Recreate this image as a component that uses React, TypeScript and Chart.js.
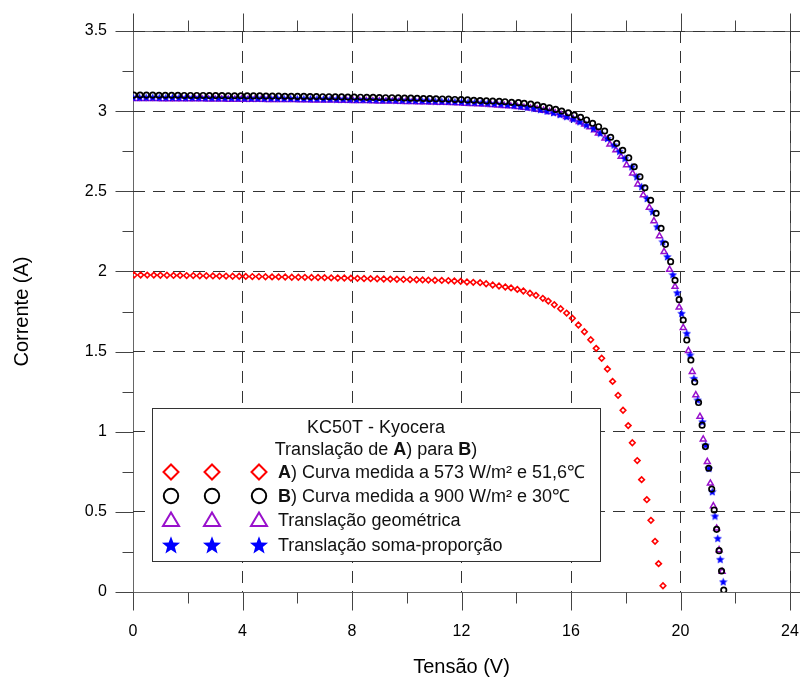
import React, { useEffect, useRef } from 'react';
import { Chart, registerables } from 'chart.js';

Chart.register(...registerables);

const FONT = '"Liberation Sans", Arial, Helvetica, sans-serif';

// ---------- axes ----------
const xTitle = 'Tensão (V)';
const yTitle = 'Corrente (A)';
const xMin = 0;
const xMax = 24;
const xStep = 4;
const yMin = 0;
const yMax = 3.5;
const yStep = 0.5;

// ---------- legend text ----------
const legendTitle = 'KC50T - Kyocera';
const legendSubtitle = [
  { text: 'Translação de ', bold: false },
  { text: 'A', bold: true },
  { text: ') para ', bold: false },
  { text: 'B', bold: true },
  { text: ')', bold: false },
];
const labelA = [
  { text: 'A', bold: true },
  { text: ') Curva medida a 573 W/m² e 51,6℃', bold: false },
];
const labelB = [
  { text: 'B', bold: true },
  { text: ') Curva medida a 900 W/m² e 30℃', bold: false },
];
const labelG = [{ text: 'Translação geométrica', bold: false }];
const labelS = [{ text: 'Translação soma-proporção', bold: false }];

// ---------- data: [V, I] ----------
const curveA: [number, number][] = [
  [0.04, 1.978], [0.28, 1.978], [0.52, 1.977], [0.76, 1.977], [1.0, 1.976], [1.24, 1.976], [1.48, 1.975], [1.72, 1.975],
  [1.96, 1.974], [2.2, 1.974], [2.44, 1.973], [2.68, 1.973], [2.92, 1.972], [3.16, 1.971], [3.4, 1.971], [3.64, 1.97],
  [3.88, 1.97], [4.12, 1.969], [4.36, 1.968], [4.6, 1.968], [4.84, 1.967], [5.08, 1.966], [5.32, 1.966], [5.56, 1.965],
  [5.8, 1.964], [6.04, 1.964], [6.28, 1.963], [6.52, 1.962], [6.76, 1.962], [7.0, 1.961], [7.24, 1.96], [7.48, 1.959],
  [7.72, 1.959], [7.96, 1.958], [8.2, 1.957], [8.44, 1.956], [8.68, 1.955], [8.92, 1.954], [9.16, 1.953], [9.4, 1.952],
  [9.64, 1.951], [9.88, 1.95], [10.12, 1.949], [10.36, 1.948], [10.58, 1.947], [10.79, 1.946], [11.03, 1.945], [11.28, 1.944],
  [11.52, 1.943], [11.74, 1.94], [11.97, 1.938], [12.2, 1.934], [12.43, 1.932], [12.68, 1.93], [12.9, 1.923], [13.14, 1.915],
  [13.37, 1.909], [13.6, 1.903], [13.81, 1.897], [14.04, 1.888], [14.26, 1.878], [14.5, 1.864], [14.72, 1.851], [14.97, 1.832],
  [15.17, 1.815], [15.39, 1.792], [15.62, 1.767], [15.84, 1.74], [16.05, 1.708], [16.27, 1.666], [16.49, 1.624], [16.72, 1.574],
  [16.92, 1.52], [17.12, 1.458], [17.33, 1.391], [17.52, 1.314], [17.72, 1.227], [17.9, 1.134], [18.09, 1.038], [18.24, 0.931],
  [18.42, 0.82], [18.58, 0.701], [18.77, 0.576], [18.92, 0.447], [19.07, 0.316], [19.2, 0.177], [19.36, 0.039],
];

const curveB: [number, number][] = [
  [0.03, 3.1], [0.26, 3.1], [0.49, 3.1], [0.72, 3.1], [0.95, 3.099], [1.18, 3.099], [1.41, 3.099], [1.64, 3.099],
  [1.87, 3.098], [2.1, 3.098], [2.33, 3.098], [2.56, 3.098], [2.79, 3.097], [3.02, 3.097], [3.25, 3.097], [3.48, 3.096],
  [3.71, 3.096], [3.94, 3.096], [4.17, 3.095], [4.4, 3.095], [4.63, 3.095], [4.86, 3.094], [5.09, 3.094], [5.32, 3.094],
  [5.55, 3.093], [5.78, 3.093], [6.01, 3.092], [6.24, 3.092], [6.47, 3.091], [6.7, 3.091], [6.93, 3.09], [7.16, 3.09],
  [7.39, 3.089], [7.62, 3.089], [7.85, 3.088], [8.08, 3.088], [8.31, 3.087], [8.54, 3.086], [8.77, 3.086], [9.0, 3.085],
  [9.23, 3.084], [9.46, 3.084], [9.69, 3.083], [9.92, 3.082], [10.15, 3.081], [10.38, 3.08], [10.61, 3.079], [10.84, 3.078],
  [11.07, 3.077], [11.3, 3.076], [11.53, 3.075], [11.76, 3.073], [11.99, 3.072], [12.22, 3.07], [12.45, 3.068], [12.68, 3.066],
  [12.91, 3.064], [13.14, 3.063], [13.38, 3.061], [13.59, 3.059], [13.83, 3.055], [14.08, 3.053], [14.29, 3.049], [14.53, 3.044],
  [14.77, 3.038], [14.99, 3.028], [15.21, 3.021], [15.44, 3.011], [15.66, 3.001], [15.9, 2.99], [16.12, 2.976], [16.35, 2.962],
  [16.57, 2.945], [16.79, 2.924], [17.01, 2.903], [17.23, 2.876], [17.45, 2.837], [17.67, 2.799], [17.89, 2.756], [18.11, 2.709],
  [18.31, 2.653], [18.52, 2.591], [18.7, 2.522], [18.91, 2.444], [19.11, 2.363], [19.29, 2.269], [19.45, 2.169], [19.64, 2.061],
  [19.8, 1.945], [19.95, 1.824], [20.1, 1.697], [20.23, 1.572], [20.38, 1.447], [20.52, 1.31], [20.66, 1.182], [20.79, 1.041],
  [20.91, 0.907], [21.03, 0.772], [21.14, 0.642], [21.23, 0.512], [21.32, 0.391], [21.41, 0.258], [21.5, 0.131], [21.58, 0.012],
];

const curveGeometric: [number, number][] = [
  [0.12, 3.077], [0.36, 3.077], [0.6, 3.077], [0.84, 3.077], [1.08, 3.076], [1.32, 3.076], [1.56, 3.076], [1.8, 3.076],
  [2.04, 3.075], [2.28, 3.075], [2.52, 3.075], [2.76, 3.074], [3.0, 3.074], [3.24, 3.074], [3.48, 3.073], [3.72, 3.073],
  [3.96, 3.073], [4.2, 3.072], [4.44, 3.072], [4.68, 3.072], [4.92, 3.071], [5.16, 3.071], [5.4, 3.071], [5.64, 3.07],
  [5.88, 3.07], [6.12, 3.069], [6.36, 3.069], [6.6, 3.068], [6.84, 3.068], [7.08, 3.067], [7.32, 3.067], [7.56, 3.066],
  [7.8, 3.066], [8.04, 3.065], [8.28, 3.064], [8.52, 3.064], [8.76, 3.063], [9.0, 3.062], [9.24, 3.061], [9.48, 3.061],
  [9.72, 3.06], [9.96, 3.059], [10.2, 3.058], [10.44, 3.057], [10.68, 3.056], [10.92, 3.055], [11.16, 3.054], [11.4, 3.053],
  [11.64, 3.052], [11.88, 3.05], [12.12, 3.048], [12.36, 3.046], [12.6, 3.044], [12.84, 3.042], [13.08, 3.04], [13.32, 3.037],
  [13.56, 3.034], [13.8, 3.031], [14.04, 3.027], [14.28, 3.022], [14.52, 3.017], [14.76, 3.011], [15.0, 3.004], [15.22, 2.996],
  [15.42, 2.988], [15.64, 2.977], [15.84, 2.965], [16.08, 2.95], [16.3, 2.934], [16.5, 2.918], [16.69, 2.9], [16.86, 2.882],
  [17.0, 2.862], [17.24, 2.83], [17.42, 2.793], [17.64, 2.757], [17.83, 2.716], [18.03, 2.664], [18.25, 2.612], [18.44, 2.544],
  [18.64, 2.477], [18.86, 2.398], [19.03, 2.315], [19.23, 2.221], [19.4, 2.123], [19.6, 2.012], [19.8, 1.905], [19.95, 1.776],
  [20.1, 1.649], [20.29, 1.505], [20.43, 1.374], [20.56, 1.229], [20.71, 1.094], [20.83, 0.953], [20.98, 0.813], [21.09, 0.678],
  [21.2, 0.537], [21.32, 0.397], [21.41, 0.262], [21.52, 0.127],
];

const curveSumProportion: [number, number][] = [
  [0.0, 3.086], [0.24, 3.086], [0.48, 3.086], [0.72, 3.086], [0.96, 3.085], [1.2, 3.085], [1.44, 3.085], [1.68, 3.085],
  [1.92, 3.084], [2.16, 3.084], [2.4, 3.084], [2.64, 3.083], [2.88, 3.083], [3.12, 3.083], [3.36, 3.082], [3.6, 3.082],
  [3.84, 3.082], [4.08, 3.081], [4.32, 3.081], [4.56, 3.081], [4.8, 3.08], [5.04, 3.08], [5.28, 3.08], [5.52, 3.079],
  [5.76, 3.079], [6.0, 3.078], [6.24, 3.078], [6.48, 3.077], [6.72, 3.077], [6.96, 3.076], [7.2, 3.076], [7.44, 3.075],
  [7.68, 3.075], [7.92, 3.074], [8.16, 3.073], [8.4, 3.073], [8.64, 3.072], [8.88, 3.071], [9.12, 3.07], [9.36, 3.07],
  [9.6, 3.069], [9.84, 3.068], [10.08, 3.067], [10.32, 3.066], [10.56, 3.065], [10.8, 3.064], [11.04, 3.063], [11.28, 3.062],
  [11.52, 3.061], [11.76, 3.059], [12.0, 3.058], [12.24, 3.056], [12.48, 3.054], [12.72, 3.052], [12.96, 3.05], [13.2, 3.047],
  [13.44, 3.044], [13.68, 3.04], [13.92, 3.036], [14.16, 3.031], [14.4, 3.025], [14.64, 3.018], [14.88, 3.01], [15.12, 3.001],
  [15.36, 2.991], [15.6, 2.979], [15.84, 2.966], [16.08, 2.951], [16.32, 2.934], [16.56, 2.914], [16.82, 2.893], [17.07, 2.863],
  [17.33, 2.83], [17.57, 2.789], [17.77, 2.75], [17.97, 2.706], [18.22, 2.653], [18.4, 2.591], [18.58, 2.529], [18.78, 2.455],
  [18.98, 2.373], [19.15, 2.279], [19.35, 2.185], [19.52, 2.092], [19.72, 1.98], [19.88, 1.867], [20.04, 1.739], [20.23, 1.614],
  [20.35, 1.479], [20.49, 1.333], [20.63, 1.198], [20.8, 1.062], [20.92, 0.917], [21.04, 0.772], [21.16, 0.626], [21.26, 0.474],
  [21.36, 0.335], [21.45, 0.204], [21.56, 0.064],
];

// ---------- colours ----------
const RED = '#ff0000';
const BLACK = '#000000';
const PURPLE = '#9911cc';
const BLUE = '#0000ff';

type Run = { text: string; bold: boolean };

function starPath(ctx: CanvasRenderingContext2D, cx: number, cy: number, R: number, r: number) {
  ctx.beginPath();
  for (let i = 0; i < 10; i++) {
    const rad = i % 2 === 0 ? R : r;
    const a = -Math.PI / 2 + (i * Math.PI) / 5;
    const px = cx + rad * Math.cos(a);
    const py = cy + rad * Math.sin(a);
    if (i === 0) ctx.moveTo(px, py);
    else ctx.lineTo(px, py);
  }
  ctx.closePath();
}

function makeStarImage(size: number, color: string) {
  const c = document.createElement('canvas');
  c.width = size;
  c.height = size;
  const g = c.getContext('2d')!;
  g.fillStyle = color;
  starPath(g, size / 2, size / 2 + 0.4, size / 2, (size / 2) * 0.45);
  g.fill();
  return c;
}

function drawMarker(ctx: CanvasRenderingContext2D, kind: string, x: number, y: number, color: string) {
  ctx.save();
  ctx.strokeStyle = color;
  ctx.fillStyle = color;
  ctx.lineWidth = 2;
  if (kind === 'diamond') {
    const s = 7.5;
    ctx.beginPath();
    ctx.moveTo(x, y - s);
    ctx.lineTo(x + s, y);
    ctx.lineTo(x, y + s);
    ctx.lineTo(x - s, y);
    ctx.closePath();
    ctx.stroke();
  } else if (kind === 'circle') {
    ctx.beginPath();
    ctx.arc(x, y, 7.2, 0, Math.PI * 2);
    ctx.stroke();
  } else if (kind === 'triangle') {
    ctx.beginPath();
    ctx.moveTo(x, y - 7.5);
    ctx.lineTo(x + 8, y + 6);
    ctx.lineTo(x - 8, y + 6);
    ctx.closePath();
    ctx.stroke();
  } else if (kind === 'star') {
    starPath(ctx, x, y + 0.8, 9.5, 4);
    ctx.fill();
  }
  ctx.restore();
}

function drawRuns(ctx: CanvasRenderingContext2D, runs: Run[], x: number, y: number, align: 'left' | 'center', size: number) {
  const fontOf = (b: boolean) => `${b ? 'bold ' : ''}${size}px ${FONT}`;
  let total = 0;
  const widths = runs.map((r) => {
    ctx.font = fontOf(r.bold);
    const w = ctx.measureText(r.text).width;
    total += w;
    return w;
  });
  let cx = align === 'center' ? x - total / 2 : x;
  runs.forEach((r, i) => {
    ctx.font = fontOf(r.bold);
    ctx.fillText(r.text, cx, y);
    cx += widths[i];
  });
}

const frameTicksPlugin = {
  id: 'frameTicks',
  beforeDraw(chart: any) {
    const { ctx, chartArea } = chart;
    const { left, right, top, bottom } = chartArea;
    const xs = chart.scales.x;
    const ys = chart.scales.y;
    ctx.save();
    ctx.fillStyle = '#ffffff';
    ctx.fillRect(0, 0, chart.width, chart.height);
    const al = (v: number) => Math.round(v) + 0.5;
    ctx.strokeStyle = '#666666';
    ctx.lineWidth = 1;
    ctx.strokeRect(al(left), al(top), Math.round(right) - Math.round(left), Math.round(bottom) - Math.round(top));

    const MAJOR = 18;
    const MINOR = 11;
    ctx.strokeStyle = '#444444';
    const xVals: number[] = xs.ticks.map((t: any) => t.value);
    const yVals: number[] = ys.ticks.map((t: any) => t.value);
    const xMinor: number[] = [];
    for (let i = 0; i < xVals.length - 1; i++) xMinor.push((xVals[i] + xVals[i + 1]) / 2);
    const yMinor: number[] = [];
    for (let i = 0; i < yVals.length - 1; i++) yMinor.push((yVals[i] + yVals[i + 1]) / 2);

    ctx.beginPath();
    const vTick = (v: number, len: number) => {
      const px = al(xs.getPixelForValue(v));
      ctx.moveTo(px, al(bottom));
      ctx.lineTo(px, al(bottom) + len);
      ctx.moveTo(px, al(top));
      ctx.lineTo(px, al(top) - len);
    };
    const hTick = (v: number, len: number) => {
      const py = al(ys.getPixelForValue(v));
      ctx.moveTo(al(left), py);
      ctx.lineTo(al(left) - len, py);
      ctx.moveTo(al(right), py);
      ctx.lineTo(al(right) + len, py);
    };
    xVals.forEach((v) => vTick(v, MAJOR));
    xMinor.forEach((v) => vTick(v, MINOR));
    yVals.forEach((v) => hTick(v, MAJOR));
    yMinor.forEach((v) => hTick(v, MINOR));
    ctx.stroke();
    ctx.restore();
  },
};

const legendPlugin = {
  id: 'kcLegend',
  afterDraw(chart: any) {
    const { ctx, chartArea } = chart;
    const x0 = chartArea.left + 19;
    const y0 = chartArea.top + 377;
    const w = 448;
    const h = 153;
    ctx.save();
    ctx.fillStyle = '#ffffff';
    ctx.fillRect(x0, y0, w, h);
    ctx.strokeStyle = '#333333';
    ctx.lineWidth = 1;
    ctx.strokeRect(x0 + 0.5, y0 + 0.5, w, h);

    ctx.fillStyle = '#111111';
    ctx.textBaseline = 'middle';
    ctx.textAlign = 'left';
    const cx = x0 + w / 2;
    drawRuns(ctx, [{ text: legendTitle, bold: false }], cx, y0 + 20, 'center', 18);
    drawRuns(ctx, legendSubtitle, cx, y0 + 42, 'center', 18);

    const rows: { kind: string; color: string; runs: Run[] }[] = [
      { kind: 'diamond', color: RED, runs: labelA },
      { kind: 'circle', color: BLACK, runs: labelB },
      { kind: 'triangle', color: PURPLE, runs: labelG },
      { kind: 'star', color: BLUE, runs: labelS },
    ];
    const rowY = [y0 + 64, y0 + 88, y0 + 112, y0 + 137];
    const markerX = [x0 + 19, x0 + 60, x0 + 107];
    rows.forEach((r, i) => {
      markerX.forEach((mx) => drawMarker(ctx, r.kind, mx, rowY[i], r.color));
      ctx.fillStyle = '#111111';
      drawRuns(ctx, r.runs, x0 + 126, rowY[i] + 1, 'left', 18);
    });
    ctx.restore();
  },
};

const toPts = (arr: [number, number][]) => arr.map(([v, i]) => ({ x: v, y: i }));

export default function App() {
  const canvasRef = useRef<HTMLCanvasElement | null>(null);

  useEffect(() => {
    document.body.style.margin = '0';
    const canvas = canvasRef.current;
    if (!canvas) return;
    const starImg = makeStarImage(9, BLUE);

    const chart = new Chart(canvas, {
      type: 'scatter',
      data: {
        datasets: [
          {
            label: 'B',
            data: toPts(curveB),
            pointStyle: 'circle',
            pointRadius: 2.7,
            borderWidth: 1.7,
            borderColor: BLACK,
            backgroundColor: 'rgba(0,0,0,0)',
            showLine: false,
          },
          {
            label: 'S',
            data: toPts(curveSumProportion),
            pointStyle: starImg as any,
            pointRadius: 4,
            borderColor: BLUE,
            backgroundColor: BLUE,
            showLine: false,
          },
          {
            label: 'G',
            data: toPts(curveGeometric),
            pointStyle: 'triangle',
            pointRadius: 3.4,
            borderWidth: 1.5,
            borderColor: PURPLE,
            backgroundColor: 'rgba(0,0,0,0)',
            showLine: false,
          },
          {
            label: 'A',
            data: toPts(curveA),
            pointStyle: 'rectRot',
            pointRadius: 2.8,
            borderWidth: 1.6,
            borderColor: RED,
            backgroundColor: 'rgba(0,0,0,0)',
            showLine: false,
          },
        ],
      },
      options: {
        animation: false,
        responsive: false,
        maintainAspectRatio: false,
        devicePixelRatio: 1,
        layout: { padding: { top: 31, right: 10, left: 0, bottom: 0 } },
        plugins: {
          legend: { display: false },
          tooltip: { enabled: false },
          title: { display: false },
        },
        scales: {
          x: {
            type: 'linear',
            position: 'bottom',
            min: xMin,
            max: xMax,
            ticks: {
              stepSize: xStep,
              autoSkip: false,
              maxRotation: 0,
              padding: 30,
              color: '#000',
              font: { family: FONT, size: 16 },
              callback: (v: any) => `${Number(v)}`,
            },
            grid: {
              drawTicks: false,
              lineWidth: 1,
              color: (c: any) => (c.tick && c.tick.value === xMin ? 'rgba(0,0,0,0)' : '#333333'),
            },
            border: { display: false, dash: [12, 8] },
            title: {
              display: true,
              text: xTitle,
              color: '#000',
              font: { family: FONT, size: 20 },
              padding: { top: 0, bottom: 1 },
            },
            afterFit: (s: any) => {
              s.height = 88;
              s.paddingLeft = 0;
              s.paddingRight = 0;
            },
          },
          y: {
            type: 'linear',
            position: 'left',
            min: yMin,
            max: yMax,
            ticks: {
              stepSize: yStep,
              autoSkip: false,
              padding: 26,
              color: '#000',
              font: { family: FONT, size: 16 },
              callback: (v: any) => `${Number(v)}`,
            },
            grid: {
              drawTicks: false,
              lineWidth: 1,
              color: (c: any) => (c.tick && c.tick.value === yMin ? 'rgba(0,0,0,0)' : '#333333'),
            },
            border: { display: false, dash: [12, 8] },
            title: {
              display: true,
              text: yTitle,
              color: '#000',
              font: { family: FONT, size: 20 },
              padding: { top: 10, bottom: 0 },
            },
            afterFit: (s: any) => {
              s.width = 133;
              s.paddingTop = 0;
              s.paddingBottom = 0;
            },
          },
        },
      } as any,
      plugins: [frameTicksPlugin, legendPlugin],
    });
    return () => chart.destroy();
  }, []);

  return (
    <div style={{ position: 'absolute', left: 0, top: 0, width: 800, height: 680, background: '#fff' }}>
      <canvas ref={canvasRef} width={800} height={680} style={{ display: 'block', width: 800, height: 680 }} />
    </div>
  );
}
